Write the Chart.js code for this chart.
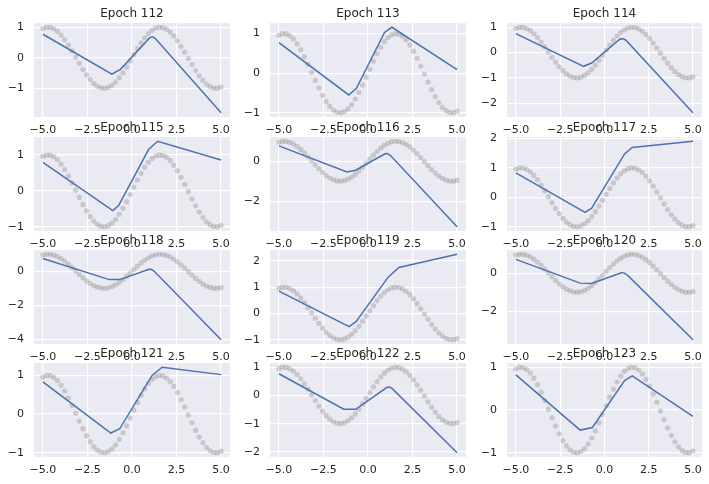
<!DOCTYPE html>
<html>
<head>
<meta charset="utf-8">
<script src="https://cdn.jsdelivr.net/npm/chart.js@4/dist/chart.umd.min.js"></script>
<style>
  body { margin: 0; background: #fff; }
  #wrap { position: relative; width: 709px; height: 484px; }
  #wrap canvas { position: absolute; left: 0; top: 0; }
</style>
</head>
<body>
<div id="wrap"></div>
<script>
// training target: grey dots
var dotX = [-5.000,-4.796,-4.592,-4.388,-4.184,-3.980,-3.776,-3.571,-3.367,-3.163,-2.959,-2.755,-2.551,-2.347,-2.143,-1.939,-1.735,-1.531,-1.327,-1.122,-0.918,-0.714,-0.510,-0.306,-0.102,
            0.102,0.306,0.510,0.714,0.918,1.122,1.327,1.531,1.735,1.939,2.143,2.347,2.551,2.755,2.959,3.163,3.367,3.571,3.776,3.980,4.184,4.388,4.592,4.796,5.000];
var dotY = [0.959,0.997,0.993,0.948,0.864,0.743,0.592,0.417,0.224,0.022,-0.182,-0.377,-0.557,-0.714,-0.841,-0.933,-0.987,-0.999,-0.970,-0.901,-0.795,-0.655,-0.488,-0.301,-0.102,
            0.102,0.301,0.488,0.655,0.795,0.901,0.970,0.999,0.987,0.933,0.841,0.714,0.557,0.377,0.182,-0.022,-0.224,-0.417,-0.592,-0.743,-0.864,-0.948,-0.993,-0.997,-0.959];

var epochs = [112, 113, 114, 115, 116, 117, 118, 119, 120, 121, 122, 123];

// network prediction (blue line), vertices
var e112 = [[-5,0.77],[-1.13,-0.54],[-0.65,-0.38],[1.0,0.66],[1.15,0.69],[1.3,0.64],[5,-1.8]];
var e113 = [[-5,0.77],[-1.08,-0.55],[-0.65,-0.38],[0.93,1.03],[1.34,1.16],[5,0.09]];
var e114 = [[-5,0.75],[-1.18,-0.54],[-0.72,-0.41],[0.85,0.52],[1.01,0.55],[1.2,0.5],[5,-2.37]];
var e115 = [[-5,0.79],[-1.08,-0.55],[-0.75,-0.41],[0.93,1.15],[1.44,1.38],[5,0.86]];
var e116 = [[-5,0.77],[-1.18,-0.54],[-0.69,-0.45],[0.95,0.37],[1.08,0.39],[1.25,0.3],[5,-3.28]];
var e117 = [[-5,0.83],[-1.09,-0.51],[-0.72,-0.37],[1.14,1.47],[1.57,1.69],[5,1.9]];
var e118 = [[-5,0.75],[-1.28,-0.49],[-0.67,-0.49],[0.95,0.12],[1.1,0.1],[1.25,0.0],[5,-4.02]];
var e119 = [[-5,0.85],[-1.06,-0.5],[-0.67,-0.31],[1.12,1.37],[1.73,1.75],[5,2.25]];
var e120 = [[-5,0.73],[-1.37,-0.52],[-0.72,-0.54],[0.96,0.03],[1.1,0.02],[1.3,-0.1],[5,-3.5]];
var e121 = [[-5,0.83],[-1.19,-0.49],[-0.69,-0.38],[1.13,1.0],[1.69,1.21],[5,1.02]];
var e122 = [[-5,0.77],[-1.36,-0.49],[-0.69,-0.49],[1.05,0.28],[1.2,0.3],[1.35,0.25],[5,-2.03]];
var e123 = [[-5,0.82],[-1.37,-0.47],[-0.68,-0.41],[1.14,0.69],[1.57,0.8],[5,-0.15]];
var lines = [e112, e113, e114, e115, e116, e117, e118, e119, e120, e121, e122, e123];

var xTicks = [-5, -2.5, 0, 2.5, 5];
var yTicks = [[-1,0,1],[-1,0,1],[-2,-1,0,1],[-1,0,1],[-2,0],[-1,0,1,2],
              [-4,-2,0],[-1,0,1,2],[-2,0],[-1,0,1],[-2,-1,0,1],[-1,0,1]];

var W = 709, H = 484;
var colLeft = [34, 270, 507], rowTop = [23, 137, 250, 363];
var axW = 196, axH = 94, yAxisW = 30, xAxisH = 22;
var textCol = '#262626';
var fam = '"DejaVu Sans", sans-serif';

function fmt(v, dec) {
    var s = v.toFixed(dec);
    return s.replace('-', '\u2212');
}

var facePlugin = {
    id: 'face',
    beforeDraw: function (chart) {
        var a = chart.chartArea, c = chart.ctx;
        c.save();
        c.fillStyle = '#EAEAF2';
        c.fillRect(a.left, a.top, a.right - a.left, a.bottom - a.top);
        c.restore();
    }
};
var titlePlugin = {
    id: 'ptitle',
    afterDraw: function (chart) {
        var a = chart.chartArea, c = chart.ctx;
        c.save();
        c.fillStyle = textCol;
        c.font = '12px ' + fam;
        c.textAlign = 'center';
        c.textBaseline = 'alphabetic';
        c.fillText(chart.options.plugins.ptitle.text, (a.left + a.right) / 2, a.top - 6);
        c.restore();
    }
};

var wrap = document.getElementById('wrap');
epochs.forEach(function (ep, i) {
    var row = Math.floor(i / 3), col = i % 3;
    var left = colLeft[col], top = rowTop[row];
    var cv = document.createElement('canvas');
    cv.width = W; cv.height = H;
    cv.style.width = W + 'px'; cv.style.height = H + 'px';
    wrap.appendChild(cv);

    var pts = lines[i].map(function (p) { return { x: p[0], y: p[1] }; });
    var dots = dotX.map(function (x, k) { return { x: x, y: dotY[k] }; });
    var lo = Math.min.apply(null, dotY.concat(lines[i].map(function (p) { return p[1]; })));
    var hi = Math.max.apply(null, dotY.concat(lines[i].map(function (p) { return p[1]; })));
    var m = (hi - lo) * 0.05;
    var yt = yTicks[i];

    new Chart(cv.getContext('2d'), {
        type: 'scatter',
        data: {
            datasets: [{
                data: pts,
                showLine: true,
                borderColor: '#4C72B0',
                borderWidth: 1.5,
                pointRadius: 0,
                order: 0
            }, {
                data: dots,
                pointRadius: 2.6,
                pointBorderWidth: 0,
                backgroundColor: 'rgba(128,128,128,0.33)',
                order: 1
            }]
        },
        options: {
            responsive: false,
            animation: false,
            events: [],
            layout: {
                padding: {
                    left: left - yAxisW,
                    top: top,
                    right: W - (left + axW),
                    bottom: H - (top + axH) - xAxisH
                }
            },
            plugins: {
                legend: { display: false },
                tooltip: { enabled: false },
                ptitle: { text: 'Epoch ' + ep }
            },
            scales: {
                x: {
                    type: 'linear',
                    min: -5.5, max: 5.5,
                    border: { display: false },
                    grid: { color: '#ffffff', lineWidth: 1.2, drawTicks: false },
                    afterBuildTicks: function (s) { s.ticks = xTicks.map(function (v) { return { value: v }; }); },
                    afterFit: function (s) { s.height = xAxisH; },
                    ticks: {
                        padding: 7, maxRotation: 0, autoSkip: false,
                        color: textCol, font: { family: fam, size: 11 },
                        callback: function (v) { return fmt(v, 1); }
                    }
                },
                y: {
                    type: 'linear',
                    min: lo - m, max: hi + m,
                    border: { display: false },
                    grid: { color: '#ffffff', lineWidth: 1.2, drawTicks: false },
                    afterBuildTicks: function (s) { s.ticks = yt.map(function (v) { return { value: v }; }); },
                    afterFit: function (s) { s.width = yAxisW; },
                    ticks: {
                        padding: 10, autoSkip: false,
                        color: textCol, font: { family: fam, size: 11 },
                        callback: function (v) { return fmt(v, 0); }
                    }
                }
            }
        },
        plugins: [facePlugin, titlePlugin]
    });
});
</script>
</body>
</html>
